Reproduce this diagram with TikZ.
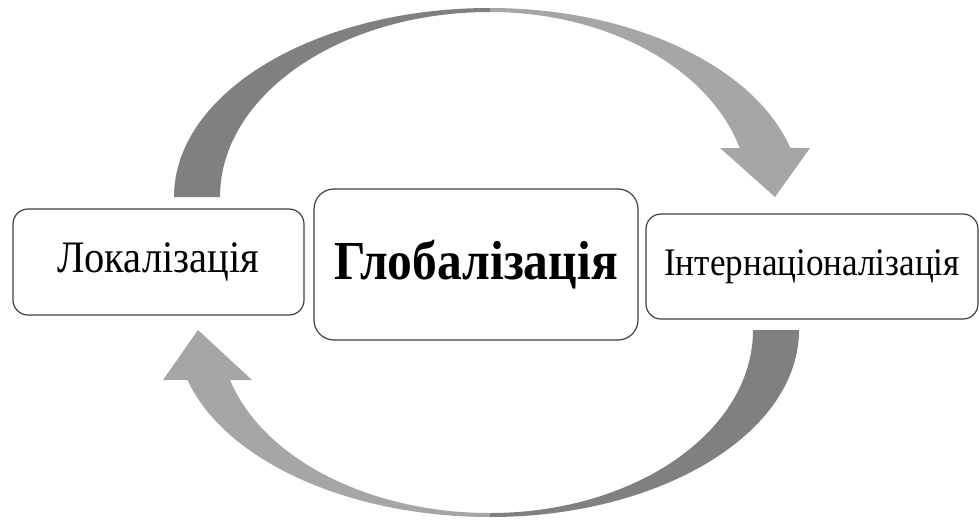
\documentclass[tikz,border=0pt]{standalone}
\usepackage{fontspec}
\setmainfont{Liberation Serif}
\newfontfamily\narrowserif[FakeStretch=0.9]{Liberation Serif}
\usetikzlibrary{positioning}
\definecolor{boxline}{RGB}{64, 64, 64}
\definecolor{arrowdark}{RGB}{128, 128, 128}
\definecolor{arrowlight}{RGB}{166, 166, 166}

\begin{document}
\begin{tikzpicture}[x=0.5pt, y=0.5pt,
    termbox/.style={draw=boxline, line width=0.6pt, fill=white, rounded corners=7.5pt, align=center, inner sep=0pt, font=\narrowserif}]
    \useasboundingbox (0,0) rectangle (979,521);

    % top ribbon: Локалізація -> Інтернаціоналізація
    \fill[arrowdark] (174,324) arc[start angle=180, end angle=90, x radius=158pt, y radius=94.5pt]
        -- (490,509) arc[start angle=90, end angle=180, x radius=135pt, y radius=92.5pt] -- cycle;
    \fill[arrowlight] (490,513) arc[start angle=90, end angle=15.03, x radius=155.5pt, y radius=94.5pt]
        -- (810,373) -- (775,324) -- (720,373) -- (739.7,373)
        arc[start angle=15.36, end angle=90, x radius=129.5pt, y radius=92.5pt] -- cycle;

    % bottom ribbon: Інтернаціоналізація -> Локалізація
    \fill[arrowdark] (799,191) arc[start angle=0, end angle=-90, x radius=154.5pt, y radius=93.5pt]
        -- (490,8) arc[start angle=-90, end angle=0, x radius=131.5pt, y radius=91.5pt] -- cycle;
    \fill[arrowlight] (490,4) arc[start angle=270, end angle=195.5, x radius=157pt, y radius=93.5pt]
        -- (163,141) -- (198,191) -- (252,141) -- (230,141)
        arc[start angle=195.86, end angle=270, x radius=135pt, y radius=91.5pt] -- cycle;

    \node[termbox, minimum width=145.5pt, minimum height=53pt] (local) at (158.5,259)
        {\fontsize{22.5}{26}\selectfont Локалізація};
    \node[termbox, minimum width=162pt, minimum height=75.5pt, rounded corners=10pt] (global) at (476,256.5)
        {\fontsize{27.5}{32}\selectfont\bfseries Глобалізація};
    \node[termbox, minimum width=166pt, minimum height=52.5pt] (inter) at (812,254.5)
        {\fontsize{19.5}{23}\selectfont Інтернаціоналізація};
\end{tikzpicture}
\end{document}
